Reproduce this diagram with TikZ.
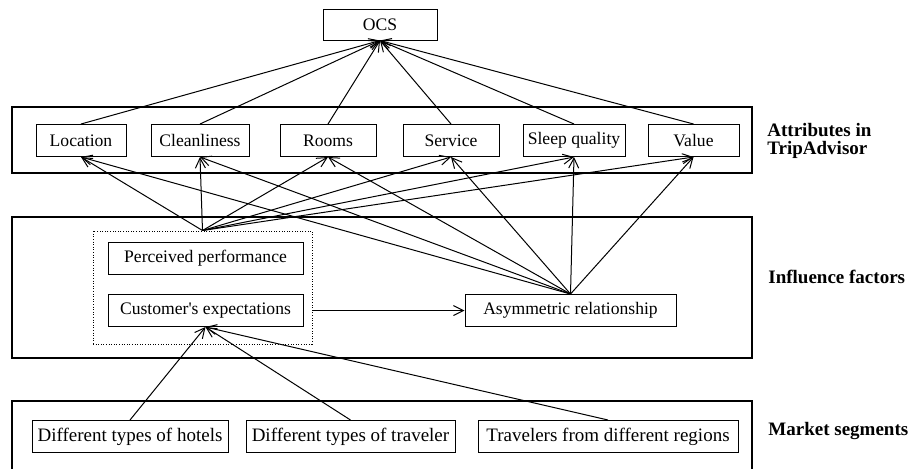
\documentclass[tikz,border=0pt]{standalone}
\usepackage{fontspec}
\setmainfont{Liberation Serif}[Ligatures=TeXOff]
\usetikzlibrary{arrows.meta}

\begin{document}
\begin{tikzpicture}[x=0.5pt, y=-0.5pt,
        box/.style={draw, line width=0.5pt, minimum height=16pt, inner sep=0pt,
            font=\fontsize{8.8}{10}\selectfont},
        segbox/.style={box, font=\fontsize{9.5}{11}\selectfont},
        frame/.style={draw, line width=0.6pt, inner sep=0pt, minimum width=370pt},
        lbl/.style={anchor=west, align=left, inner sep=0pt,
            font=\fontsize{9.5}{8.6}\selectfont\bfseries},
        arr/.style={-{Straight Barb[length=5pt, width=5pt]}, line width=0.5pt}]
    \useasboundingbox (0,0) rectangle (914,468);

    % frames of the three levels
    \node[frame, minimum height=33pt] (attrframe) at (382,140) {};
    \node[frame, minimum height=70.5pt] (inflframe) at (382,287.5) {};
    \node[frame, minimum height=34.5pt] (segframe) at (382,435.5) {};
    \node[draw, line width=0.5pt, dash pattern=on 0.5pt off 0.8pt, inner sep=0pt,
        minimum width=109.5pt, minimum height=56.5pt] (factors) at (202.5,287.5) {};

    % boxes
    \node[box, minimum width=57pt, minimum height=15.5pt] (ocs) at (380,24.5) {OCS};
    \node[box, minimum width=45pt] (location) at (81,140.5) {Location};
    \node[box, minimum width=49pt] (clean) at (200,140.5) {Cleanliness};
    \node[box, minimum width=48pt] (rooms) at (328,140.5) {Rooms};
    \node[box, minimum width=48pt] (service) at (451,140.5) {Service};
    \node[box, minimum width=51pt] (sleep) at (574,140.5) {Sleep quality};
    \node[box, minimum width=45.5pt] (value) at (693.5,140.5) {Value};

    \node[box, minimum width=97.5pt] (perf) at (205.5,258) {Perceived performance};
    \node[box, minimum width=97.5pt] (expect) at (205.5,310.5) {Customer's expectations};
    \node[box, minimum width=105.5pt] (asym) at (570.5,310.5) {Asymmetric relationship};

    \node[segbox, minimum width=98pt] (hotels) at (130,436.5) {Different types of hotels};
    \node[segbox, minimum width=104.5pt] (traveler) at (350.5,436.5) {Different types of traveler};
    \node[segbox, minimum width=130pt] (regions) at (608,436.5) {Travelers from different regions};

    % level labels
    \node[lbl] (attrlbl) at (767,141) {Attributes in\\TripAdvisor};
    \node[lbl] (infllbl) at (768,277) {Influence factors};
    \node[lbl] (seglbl) at (768,431) {Market segments};

    % connectors
    \foreach \a in {location,clean,rooms,service,sleep,value}{
        \draw[arr] (\a.north) -- (ocs.south);
        \draw[arr] (factors.north) -- (\a.south);
        \draw[arr] (asym.north) -- (\a.south);
    }
    \draw[arr] (factors.east |- expect.east) -- (asym.west);
    \foreach \s in {hotels,traveler,regions}
        \draw[arr] (\s.north) -- (expect.south);
\end{tikzpicture}
\end{document}
